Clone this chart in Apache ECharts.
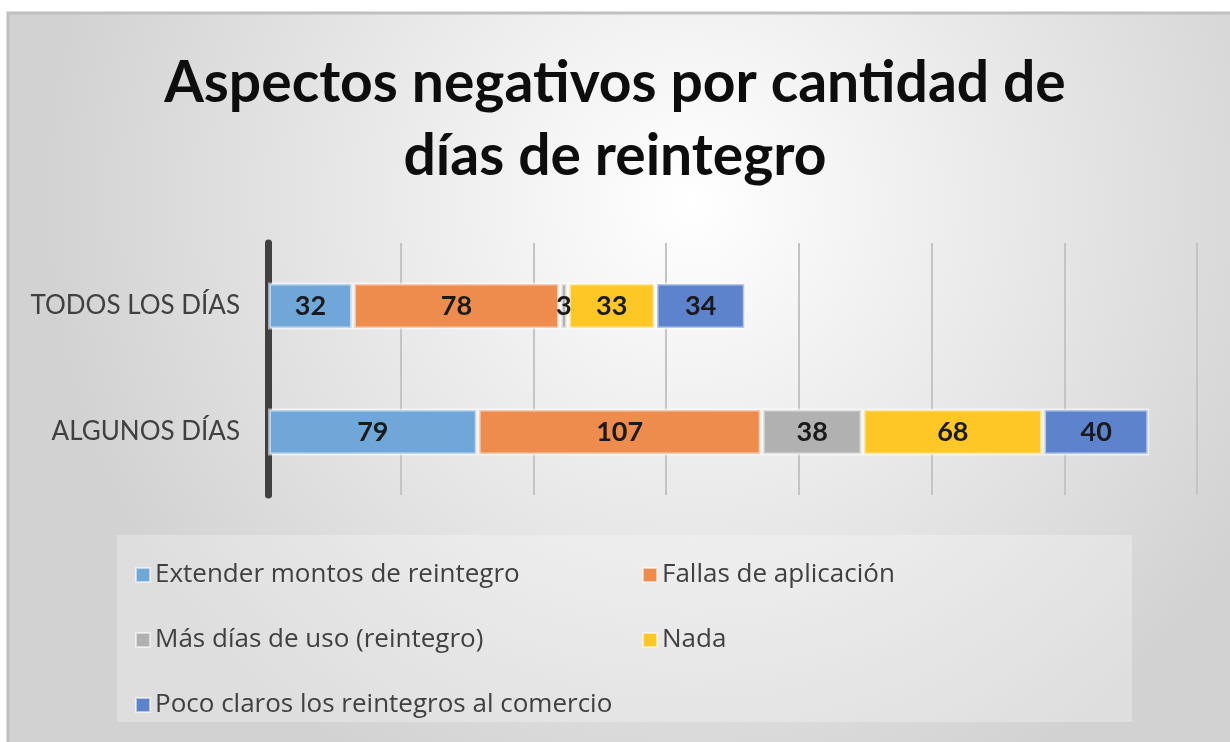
<!DOCTYPE html>
<html>
<head>
<meta charset="utf-8">
<script src="https://cdn.jsdelivr.net/npm/echarts@6/dist/echarts.min.js"></script>
<style>
html,body{margin:0;padding:0;background:#fff;}
#c{width:1230px;height:742px;}
</style>
</head>
<body>
<div id="c"></div>
<script>
const categories = ['ALGUNOS DÍAS', 'TODOS LOS DÍAS'];
const seriesNames = ['Extender montos de reintegro', 'Fallas de aplicación', 'Más días de uso (reintegro)', 'Nada', 'Poco claros los reintegros al comercio'];
const extender = [79, 32];
const fallas = [107, 78];
const masDias = [38, 3];
const nada = [68, 33];
const pocoClaros = [40, 34];
const colors = ['#6FA7D9', '#EE8C4E', '#B1B1B1', '#FDC725', '#5C83CB'];

const seriesData = [extender, fallas, masDias, nada, pocoClaros];
const font = 'Lato, "Open Sans", sans-serif';
const legendFont = '"Open Sans", Lato, sans-serif';

const legendPos = [
  {left: 130, top: 557},
  {left: 637, top: 557},
  {left: 130, top: 622},
  {left: 637, top: 622},
  {left: 130, top: 687}
];

const chart = echarts.init(document.getElementById('c'));
chart.setOption({
  animation: false,
  backgroundColor: '#ffffff',
  graphic: [
    {
      type: 'rect', z: -10, silent: true,
      shape: {x: 8, y: 13, width: 1240, height: 760},
      style: {
        fill: {type: 'radial', x: 0.55, y: 0.25, r: 0.85, colorStops: [
          {offset: 0, color: '#ffffff'}, {offset: 1, color: '#d2d2d2'}]},
        stroke: '#c0c0c0', lineWidth: 3
      }
    },
    {
      type: 'rect', z: -5, silent: true,
      shape: {x: 117, y: 535, width: 1015, height: 187},
      style: {fill: 'rgba(255,255,255,0.28)'}
    }
  ],
  title: {
    text: 'Aspectos negativos por cantidad de\ndías de reintegro',
    left: 'center', top: 42,
    textStyle: {fontFamily: font, fontWeight: 'bold', fontSize: 57, lineHeight: 73, color: '#0d0d0d'}
  },
  legend: seriesNames.map((n, i) => ({
    data: [n], left: legendPos[i].left, top: legendPos[i].top,
    icon: 'rect', itemWidth: 14, itemHeight: 14, itemGap: 8,
    textStyle: {fontFamily: legendFont, fontSize: 26, color: '#404040'},
    selectedMode: false
  })),
  grid: {left: 268, right: 33, top: 243, bottom: 247, containLabel: false},
  xAxis: {
    type: 'value', min: 0, max: 350, interval: 50,
    axisLine: {show: false}, axisTick: {show: false}, axisLabel: {show: false},
    splitLine: {show: true, lineStyle: {color: '#c4c4c4', width: 2}}
  },
  yAxis: {
    type: 'category', data: categories,
    axisLine: {show: true, lineStyle: {color: '#404040', width: 7}},
    axisTick: {show: false},
    axisLabel: {fontFamily: font, fontSize: 26, color: '#404040', margin: 28, padding: [26, 0, 0, 0]}
  },
  series: seriesNames.map((n, i) => ({
    name: n, type: 'bar', stack: 'total', barWidth: 47,
    data: seriesData[i],
    itemStyle: {color: colors[i], borderColor: 'rgba(255,255,255,0.55)', borderWidth: 3},
    label: {show: true, position: 'inside', fontFamily: font, fontWeight: 'bold', fontSize: 27, color: '#1a1a1a', padding: [4, 0, 0, 0]}
  }))
});
</script>
</body>
</html>
